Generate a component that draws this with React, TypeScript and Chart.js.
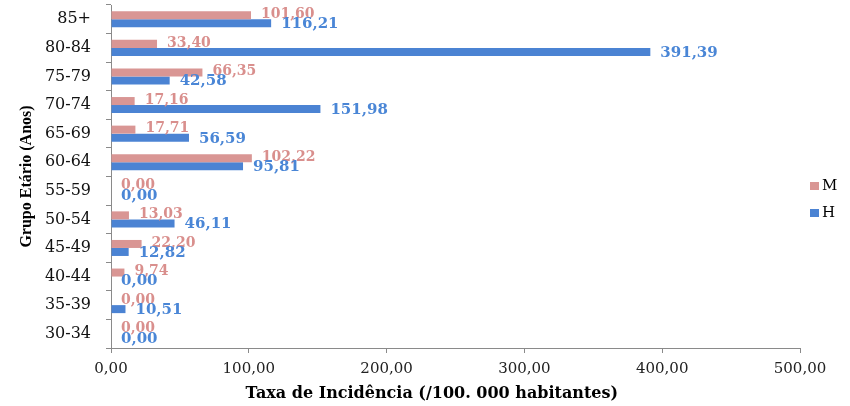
import React, { useEffect, useRef } from "react";
import { Chart, registerables } from "chart.js";

Chart.register(...registerables);

const ageGroups = ["85+", "80-84", "75-79", "70-74", "65-69", "60-64", "55-59", "50-54", "45-49", "40-44", "35-39", "30-34"];
const seriesM = [101.6, 33.4, 66.35, 17.16, 17.71, 102.22, 0, 13.03, 22.2, 9.74, 0, 0];
const seriesH = [116.21, 391.39, 42.58, 151.98, 56.59, 95.81, 0, 46.11, 12.82, 0, 10.51, 0];
const seriesNames = ["M", "H"];
const xTickValues = [0, 100, 200, 300, 400, 500];
const xTitle = "Taxa de Incidência (/100. 000 habitantes)";
const yTitle = "Grupo Etário (Anos)";

const colorM = "#d99694";
const colorH = "#4b83d3";
const labelColorM = "#d98f8d";
const labelColorH = "#4a86d6";
const axisColor = "#8a8a8a";

const fmt = (v: number) => v.toFixed(2).replace(".", ",");

const labelPlugin = {
  id: "valueLabels",
  afterDatasetsDraw(chart: any) {
    const ctx = chart.ctx;
    ctx.save();
    ctx.textAlign = "left";
    ctx.textBaseline = "middle";
    chart.data.datasets.forEach((ds: any, i: number) => {
      const meta = chart.getDatasetMeta(i);
      ctx.fillStyle = i === 0 ? labelColorM : labelColorH;
      ctx.font = i === 0 ? "bold 14px 'DejaVu Serif'" : "bold 15px 'DejaVu Serif'";
      meta.data.forEach((bar: any, j: number) => {
        const { x, y } = bar.getProps(["x", "y"], true);
        const nudge = i === 0 ? -1 : 1;
        ctx.fillText(fmt(ds.data[j]), x + 10, y + nudge);
      });
    });
    ctx.restore();
  },
};

const legendPlugin = {
  id: "customLegend",
  afterDraw(chart: any) {
    const ctx = chart.ctx;
    ctx.save();
    ctx.textAlign = "left";
    ctx.textBaseline = "middle";
    ctx.font = "15px 'DejaVu Serif'";
    const x0 = chart.chartArea.right + 10;
    const ys = [186, 213];
    chart.data.datasets.forEach((ds: any, i: number) => {
      ctx.fillStyle = ds.backgroundColor;
      ctx.fillRect(x0, ys[i] - 4, 9, 8);
      ctx.fillStyle = "#000";
      ctx.fillText(ds.label, x0 + 12, ys[i]);
    });
    // x-axis title, centred on the whole figure width like the original
    ctx.font = "bold 16px 'DejaVu Serif'";
    ctx.textAlign = "center";
    ctx.fillText(xTitle, chart.width * 0.508, chart.height - 12);
    ctx.restore();
  },
};

export default function App() {
  const canvasRef = useRef<HTMLCanvasElement | null>(null);

  useEffect(() => {
    if (!canvasRef.current) return;
    const chart = new Chart(canvasRef.current, {
      type: "bar",
      data: {
        labels: ageGroups,
        datasets: [
          { label: seriesNames[0], data: seriesM, backgroundColor: colorM, categoryPercentage: 0.56, barPercentage: 1 },
          { label: seriesNames[1], data: seriesH, backgroundColor: colorH, categoryPercentage: 0.56, barPercentage: 1 },
        ],
      },
      options: {
        indexAxis: "y",
        animation: false,
        responsive: true,
        maintainAspectRatio: false,
        layout: { padding: { top: 5, right: 50, left: 0, bottom: 0 } },
        plugins: {
          legend: { display: false },
          tooltip: { enabled: false },
        },
        scales: {
          x: {
            type: "linear",
            min: 0,
            max: 500,
            afterBuildTicks: (s: any) => {
              s.ticks = xTickValues.map((v) => ({ value: v }));
            },
            afterFit: (s: any) => {
              s.height = 58;
            },
            ticks: {
              callback: (v: any) => fmt(Number(v)),
              font: { family: "'DejaVu Serif'", size: 15 },
              color: "#222",
              padding: 7,
              maxRotation: 0,
            },
            grid: { drawOnChartArea: false, drawTicks: true, tickLength: 5, color: axisColor },
            border: { color: axisColor, width: 1 },
            title: { display: false },
          },
          y: {
            type: "category",
            offset: true,
            afterFit: (s: any) => {
              s.width = 111;
              s.paddingTop = 0;
              s.paddingBottom = 0;
            },
            ticks: {
              font: { family: "'DejaVu Serif'", size: 16 },
              color: "#111",
              padding: 15,
            },
            grid: { offset: true, drawOnChartArea: false, drawTicks: true, tickLength: 5, color: axisColor },
            border: { color: axisColor, width: 1 },
            title: {
              display: true,
              text: yTitle,
              font: { family: "'Liberation Serif'", size: 16, weight: "bold" },
              color: "#000",
              padding: { top: 17, bottom: 0 },
            },
          },
        },
      },
      plugins: [labelPlugin, legendPlugin],
    });
    return () => chart.destroy();
  }, []);

  return (
    <div style={{ position: "fixed", left: 0, top: 0, width: 850, height: 406, background: "#fff" }}>
      <canvas ref={canvasRef} />
    </div>
  );
}
